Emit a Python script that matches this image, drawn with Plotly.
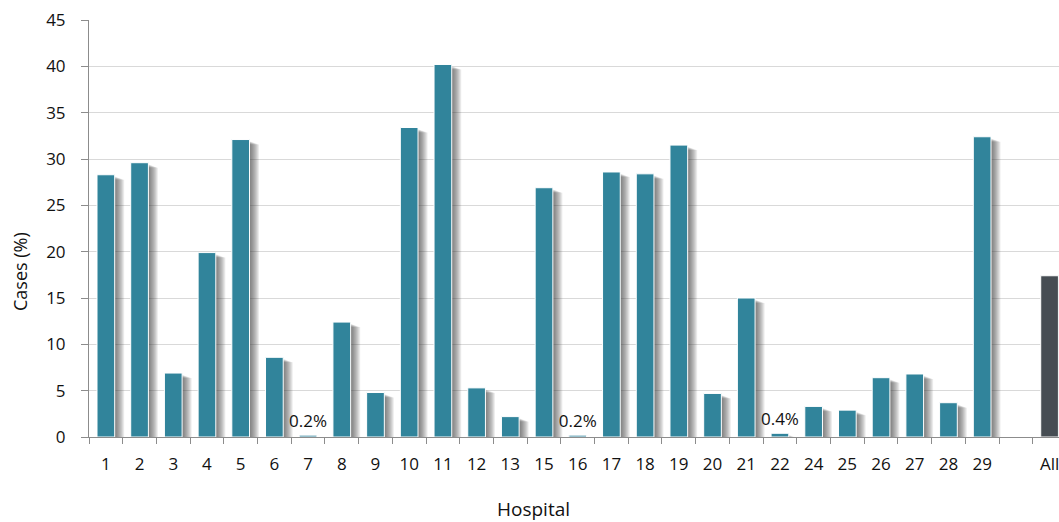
import plotly.graph_objects as go

# Share of cases per hospital, plus the overall figure
hospitals = ["1", "2", "3", "4", "5", "6", "7", "8", "9", "10", "11", "12", "13",
             "15", "16", "17", "18", "19", "20", "21", "22",
             "24", "25", "26", "27", "28", "29"]
hospital_cases = [28.3, 29.6, 6.9, 19.9, 32.1, 8.6, 0.2, 12.4, 4.8, 33.4, 40.2, 5.3, 2.2,
                  26.9, 0.2, 28.6, 28.4, 31.5, 4.7, 15.0, 0.4,
                  3.3, 2.9, 6.4, 6.8, 3.7, 32.4]
overall_label = "All"
overall_cases = 17.4
labelled = {"7", "16", "22"}  # near-zero bars that carry a value label

TEAL = "#31849B"
SLATE = "#464D53"
FONT = "Open Sans"

categories = hospitals + [" ", overall_label]
values = hospital_cases + [None, overall_cases]
colors = [TEAL] * len(hospitals) + [TEAL, SLATE]
texts = [f"{v}%" if c in labelled else "" for c, v in zip(hospitals, hospital_cases)] + ["", ""]

BAR_W = 0.525
PX = 1 / 33.7      # one pixel along x, in category units
PY = 45 / 417.5    # one pixel along y, in percentage points

fig = go.Figure()

# soft drop shadow to the right of every bar: stacked translucent layers,
# the wider ones a little shorter so the edge fades out like a blur
N_LAYERS = 10
for k in range(1, N_LAYERS + 1):
    drop = (1.5 + 0.35 * k) * PY
    shadow_vals = [None if v is None else max(v - drop, 0) for v in values]
    fig.add_trace(go.Bar(
        x=categories, y=shadow_vals,
        width=BAR_W / 2 + k * 0.95 * PX,
        offset=0,
        marker=dict(color="rgba(60,60,60,0.09)", line=dict(width=0)),
        hoverinfo="skip", showlegend=False,
    ))

fig.add_trace(go.Bar(
    x=categories, y=values,
    width=BAR_W,
    marker=dict(color=colors, line=dict(color="white", width=1)),
    text=texts, textposition="outside", cliponaxis=False, constraintext="none",
    textfont=dict(family=FONT, size=17, color="#111111"),
    showlegend=False,
))

fig.update_layout(
    width=1059, height=522,
    margin=dict(l=89, r=0, t=20, b=84.5),
    paper_bgcolor="white", plot_bgcolor="white",
    barmode="overlay",
    font=dict(family=FONT, size=17, color="#111111"),
    xaxis=dict(
        type="category", categoryorder="array", categoryarray=categories,
        range=[-0.5, 28.28],
        showline=True, linecolor="#8c8c8c", linewidth=1,
        ticks="outside", tickson="boundaries", ticklen=6, tickcolor="#8c8c8c",
        ticklabelstandoff=12,
        showgrid=False, zeroline=False,
    ),
    yaxis=dict(
        range=[0, 45], dtick=5,
        showline=True, linecolor="#8c8c8c", linewidth=1,
        ticks="outside", ticklen=7, tickcolor="#8c8c8c",
        ticklabelstandoff=12,
        showgrid=True, gridcolor="#d9d9d9", gridwidth=1,
        zeroline=False,
    ),
    annotations=[
        dict(text="Hospital", xref="paper", yref="paper", x=0.458, y=-0.173,
             xanchor="center", yanchor="middle", showarrow=False,
             font=dict(family=FONT, size=19)),
        dict(text="Cases (%)", xref="paper", yref="paper", x=-0.071, y=0.396,
             xanchor="center", yanchor="middle", showarrow=False, textangle=-90,
             font=dict(family=FONT, size=18)),
    ],
)

fig.write_html("out.html")
